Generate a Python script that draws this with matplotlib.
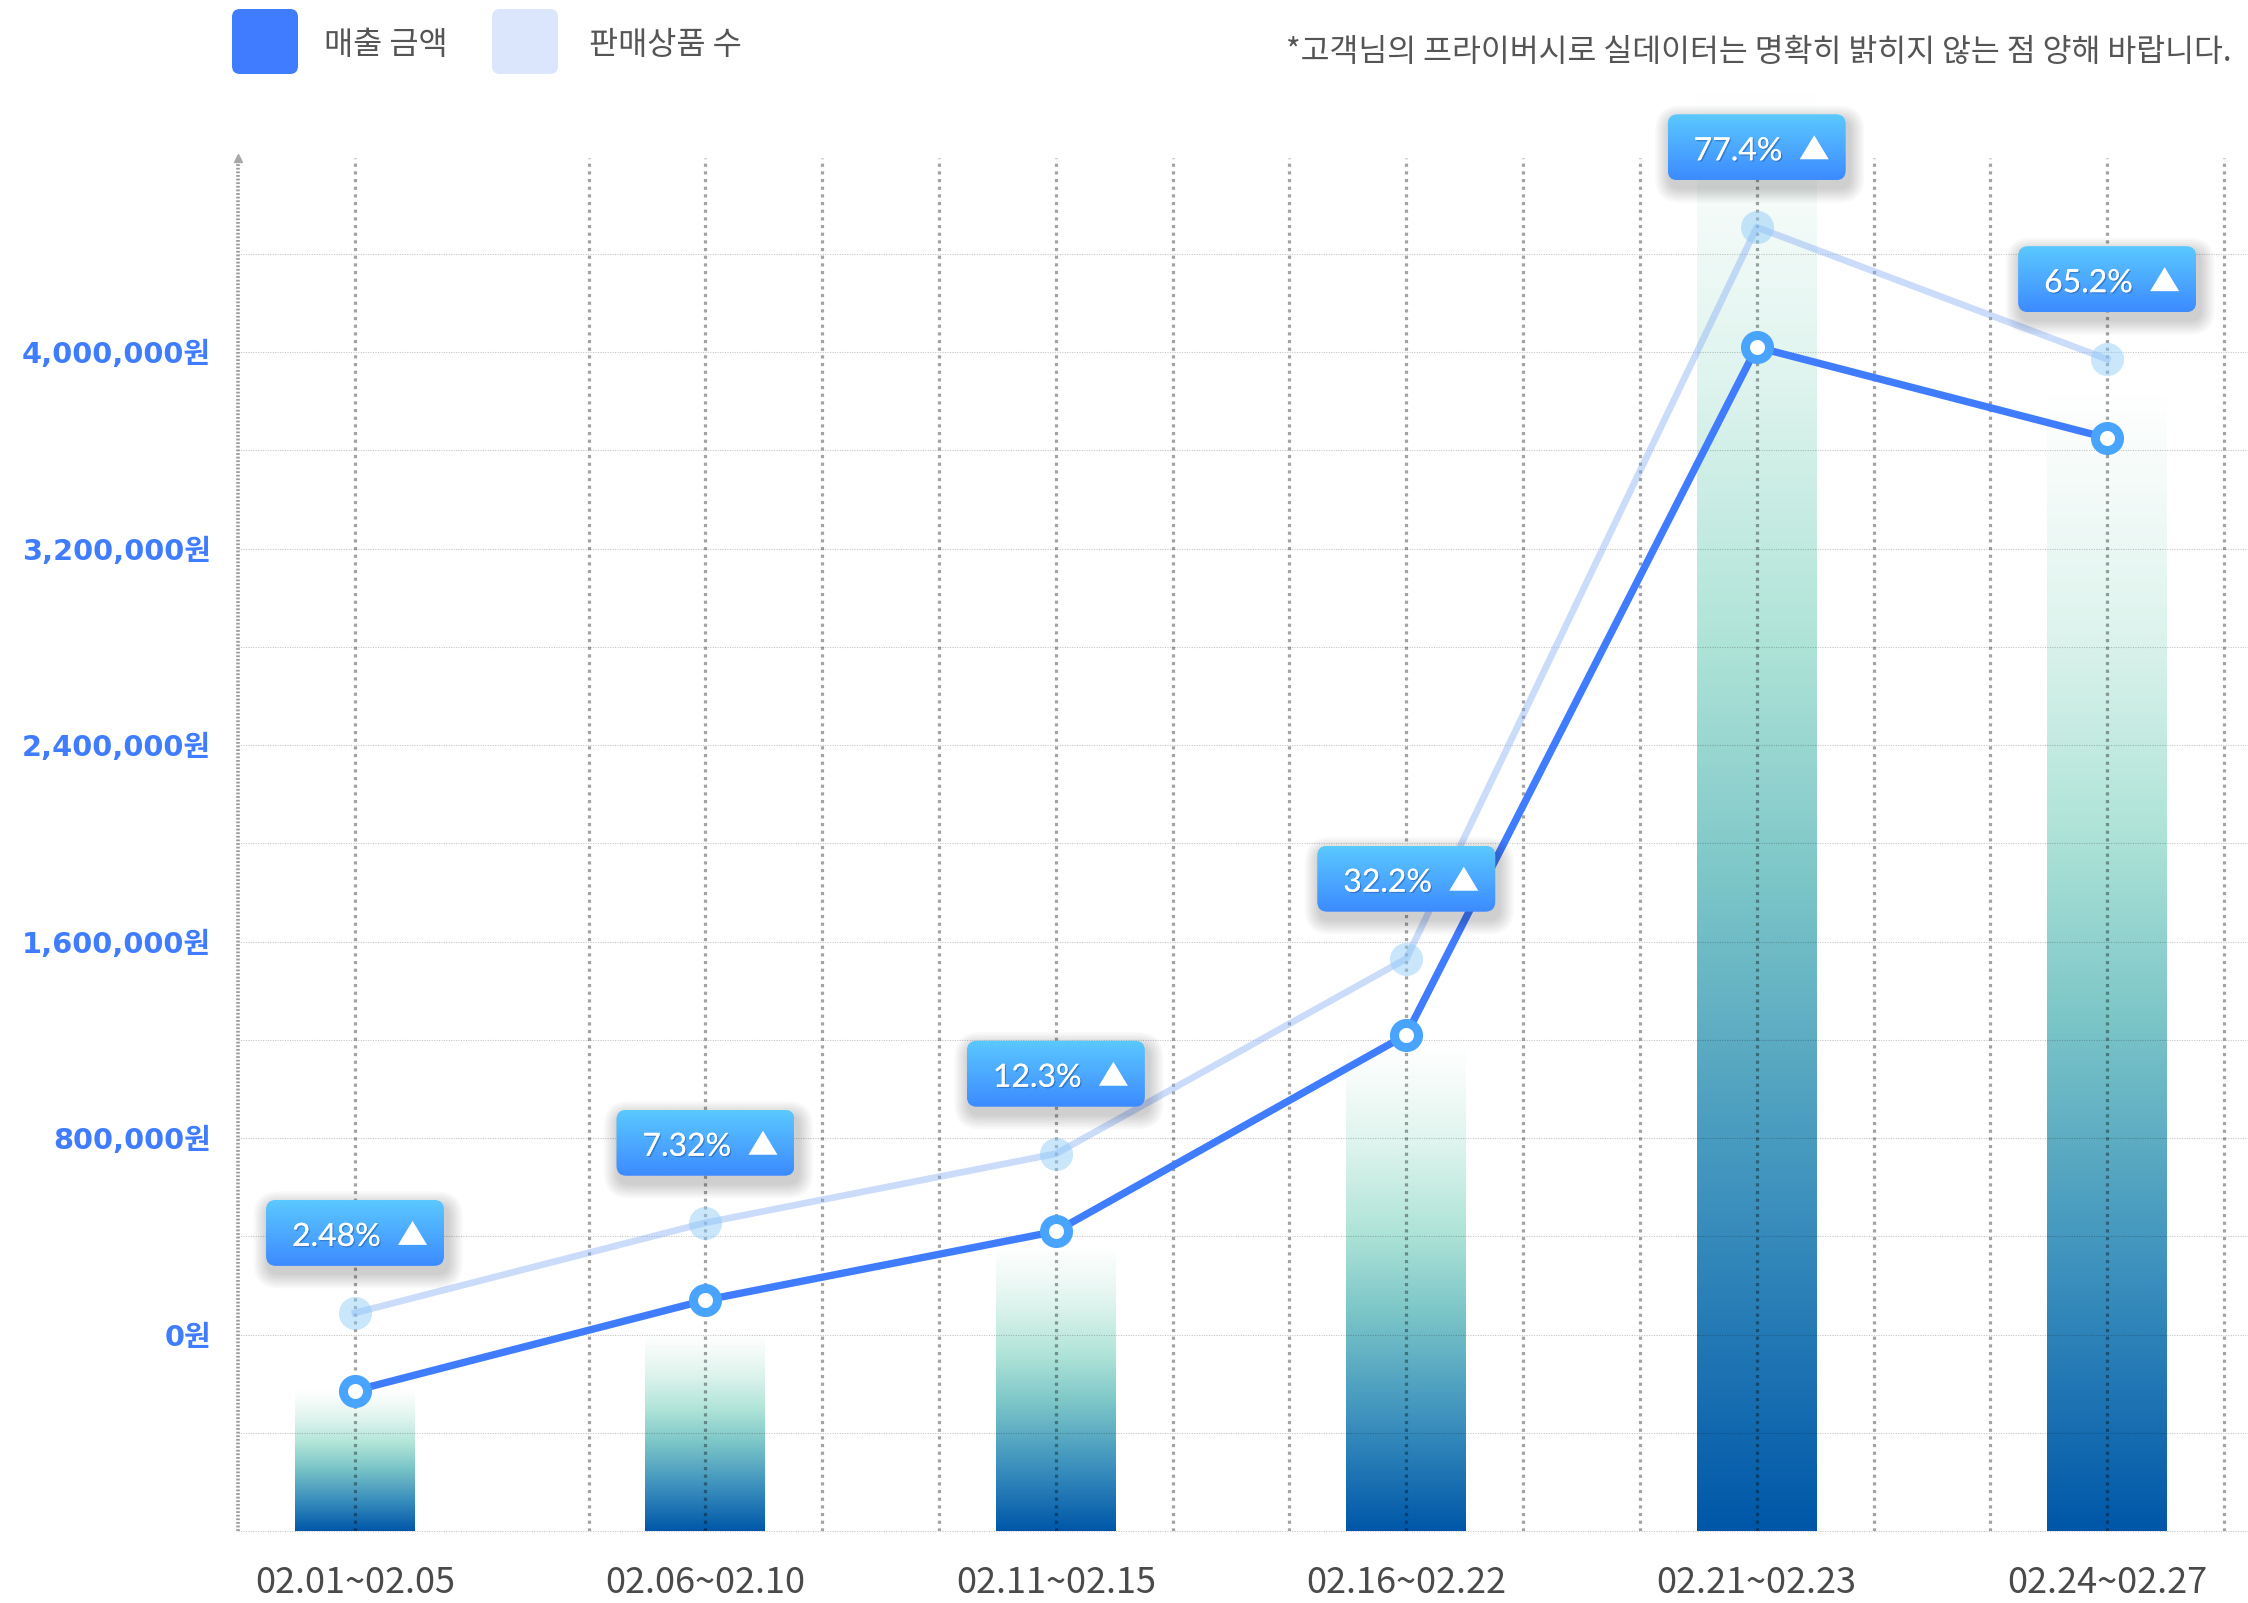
#!/usr/bin/env python3
"""
Weekly sales vs. items sold, with growth badges.

Usage:
    python plot.py
"""

import numpy as np
import matplotlib
matplotlib.use("Agg")
import matplotlib.pyplot as plt
import matplotlib.patheffects as pe
from matplotlib.patches import FancyBboxPatch, Polygon
from matplotlib.colors import LinearSegmentedColormap

# ---- data -------------------------------------------------------------
periods = ["02.01~02.05", "02.06~02.10", "02.11~02.15",
           "02.16~02.22", "02.21~02.23", "02.24~02.27"]
sales = [-228000, 140000, 420000, 1220000, 4020000, 3650000]        # 매출 금액
items = [88000, 455000, 736000, 1530000, 4508000, 3971000]          # 판매상품 수
bar_values = [-230000, 0, 360000, 1175000, 5070000, 3830000]
growth = ["2.48%", "7.32%", "12.3%", "32.2%", "77.4%", "65.2%"]
ytick_values = [0, 800000, 1600000, 2400000, 3200000, 4000000]
ytick_labels = ["0원", "800,000원", "1,600,000원", "2,400,000원",
                "3,200,000원", "4,000,000원"]
legend_labels = ["매출 금액", "판매상품 수"]
note = "*고객님의 프라이버시로 실데이터는 명확히 밝히지 않는 점 양해 바랍니다."

KR = ["Noto Sans CJK KR", "DejaVu Sans"]

# ---- layout (pixels of the 2248x1603 canvas) --------------------------
W_PX, H_PX = 2248, 1603
AX_L, AX_R, AX_T, AX_B = 238, 2248, 158, 1531
XLIM = (-0.334, 5.402)
YLIM = (-800000, 4790000)


def main():
    fig = plt.figure(figsize=(W_PX / 100, H_PX / 100), dpi=100)
    fig.patch.set_facecolor("white")
    ax = fig.add_axes([AX_L / W_PX, (H_PX - AX_B) / H_PX,
                       (AX_R - AX_L) / W_PX, (AX_B - AX_T) / H_PX])
    ux = (XLIM[1] - XLIM[0]) / (AX_R - AX_L)   # data units per pixel
    uy = (YLIM[1] - YLIM[0]) / (AX_B - AX_T)

    x = np.arange(len(periods))

    # grid
    for v in np.arange(-800000, 4400001, 400000):
        ax.axhline(v, color="k", alpha=0.22, lw=0.8, ls=(0, (1, 1.2)),
                   zorder=2, clip_on=False)
    for k in range(1, 18):
        if k == 2:
            continue
        ax.axvline(-1 / 3 + k / 3, color="k", alpha=0.36, lw=2.3,
                   ls=(0, (1, 1.4)), zorder=3)
    ax.axvline(-1 / 3, color="#9a9a9a", lw=2.6, ls=(0, (0.5, 0.5)),
               zorder=3, clip_on=False)
    ax.plot(-1 / 3, YLIM[1], marker="^", ms=6, color="#a8a8a8",
            clip_on=False, zorder=3)

    # gradient bars
    bar_cmap = LinearSegmentedColormap.from_list("bars", [
        (0.0, "#0057a8"), (0.22, "#3a8fbd"), (0.45, "#7cc6c8"),
        (0.62, "#b0e4d8"), (0.8, "#dff4ee"), (0.92, "#f4fbf9"),
        (1.0, "#ffffff")])
    grad = bar_cmap(np.linspace(0, 1, 256).reshape(-1, 1))
    bw = 120 * ux
    for xi, top in zip(x, bar_values):
        im = ax.imshow(grad, extent=[xi - bw / 2, xi + bw / 2, YLIM[0], top],
                       origin="lower", aspect="auto", interpolation="bilinear",
                       zorder=1)
        im.set_clip_on(False)

    # lines
    ax.plot(x, items, color="#7fa8f5", alpha=0.4, lw=4.8, zorder=4)
    ax.plot(x, items, "o", ms=23.8, color="#8ecbf7", alpha=0.48, mew=0,
            zorder=4)
    ax.plot(x, sales, color="#3f7cff", lw=5.3, zorder=5)
    ax.plot(x, sales, "o", ms=17.3, mfc="white", mec="#48a4ff", mew=6.5,
            zorder=6)

    # growth badges
    badge_cmap = LinearSegmentedColormap.from_list("badge", ["#3d8bff", "#5bc8ff"])
    bgrad = badge_cmap(np.linspace(0, 1, 64).reshape(-1, 1))
    w, h, r = 178 * ux, 66 * uy, 10
    asp = uy / ux
    for xi, yi, label in zip(x, items, growth):
        cy = yi + 80 * uy
        x0, y0 = xi - w / 2, cy - h / 2
        for k in range(7):
            pad = (k + 1) * 2.2
            sh = FancyBboxPatch((x0 - pad * ux + 3 * ux, y0 - pad * uy - 7 * uy),
                                w + 2 * pad * ux, h + 2 * pad * uy,
                                boxstyle=f"round,pad=0,rounding_size={(r + pad) * ux}",
                                mutation_aspect=asp, fc="k", ec="none",
                                alpha=0.028, zorder=7, clip_on=False)
            ax.add_patch(sh)
        box = FancyBboxPatch((x0, y0), w, h,
                             boxstyle=f"round,pad=0,rounding_size={r * ux}",
                             mutation_aspect=asp, fc="none", ec="none",
                             zorder=8, clip_on=False)
        ax.add_patch(box)
        bim = ax.imshow(bgrad, extent=[x0, x0 + w, y0, y0 + h], origin="lower",
                        aspect="auto", interpolation="bilinear", zorder=8)
        bim.set_clip_path(box)
        bim.set_clip_box(fig.bbox)
        ax.text(x0 + 26 * ux, cy - 13 * uy, label, color="white", fontsize=23,
                family=["Lato", "DejaVu Sans"],
                ha="left", va="baseline", zorder=9, clip_on=False,
                path_effects=[pe.withSimplePatchShadow(offset=(1, -1),
                                                       shadow_rgbFace="#1d4f9c",
                                                       alpha=0.45),
                              pe.Normal()])
        tx = x0 + w - 31.5 * ux
        ax.add_patch(Polygon([(tx - 14.5 * ux, cy - 12 * uy),
                              (tx + 14.5 * ux, cy - 12 * uy),
                              (tx, cy + 12 * uy)],
                             closed=True, fc="white", ec="none", zorder=9,
                             clip_on=False))

    # axes cosmetics
    ax.set_xlim(*XLIM)
    ax.set_ylim(*YLIM)
    ax.set_aspect("auto")
    for s in ax.spines.values():
        s.set_visible(False)
    ax.set_xticks([])
    ax.set_yticks(ytick_values)
    ax.set_yticklabels(ytick_labels, color="#3f7cff", fontsize=20.8,
                       weight="bold", family=["DejaVu Sans", "Noto Sans CJK KR"])
    ax.tick_params(axis="y", length=0, pad=19.4)

    for xi, lab in zip(x, periods):
        ax.text(xi, YLIM[0] - 62 * uy, lab, ha="center", va="baseline",
                fontsize=26, color="#4a4a4a", family=KR, weight="medium",
                clip_on=False)

    # overlay for legend + note (pixel coordinates)
    ov = fig.add_axes([0, 0, 1, 1])
    ov.set_xlim(0, W_PX)
    ov.set_ylim(H_PX, 0)
    ov.axis("off")
    ov.patch.set_alpha(0)
    for (sx, tx), col, lab in zip([(232, 324), (492, 589)],
                                  ["#3f7cff", "#dbe6fd"], legend_labels):
        ov.add_patch(FancyBboxPatch((sx, 9), 66, 65,
                                    boxstyle="round,pad=0,rounding_size=8",
                                    fc=col, ec="none"))
        ov.text(tx, 45, lab, ha="left", va="center", fontsize=22.8,
                color="#555555", family=KR, weight="medium")
    ov.text(2231, 52, note, ha="right", va="center", fontsize=22.6,
            color="#555555", family=KR, weight="medium")

    fig.savefig("out.png", dpi=100)


if __name__ == "__main__":
    main()
